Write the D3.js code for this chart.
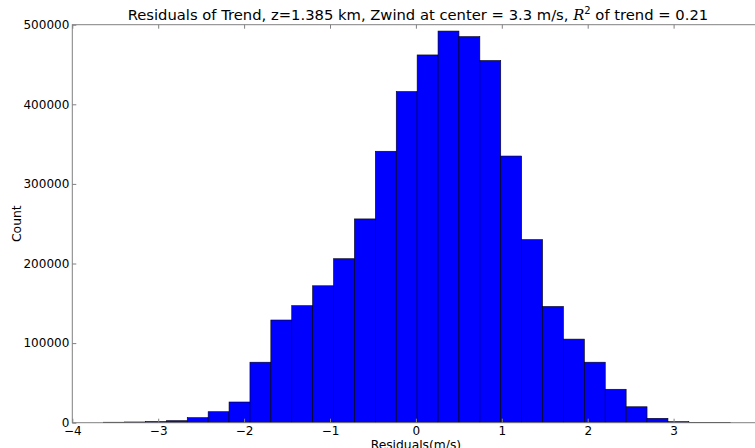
<!DOCTYPE html>
<html>
<head>
<meta charset="utf-8">
<script src="https://cdn.jsdelivr.net/npm/d3@7"></script>
<style>
  html, body { margin: 0; padding: 0; background: #fff; }
  svg { display: block; font-family: "DejaVu Sans", sans-serif; }
</style>
</head>
<body>
<svg id="chart" width="755" height="448"></svg>
<script>
// Histogram of trend residuals: 30 equal-width bins
const binStart = -3.635;
const binWidth = 0.2433;
const counts = [
  600, 900, 1500, 2500, 6300, 13800, 26000, 76000, 129000, 147000,
  172000, 206000, 256000, 341000, 416000, 462000, 492000, 485000, 455000, 335000,
  230000, 146000, 105000, 76000, 42000, 20000, 5500, 1300, 500, 300
];
const xTicks = [-4, -3, -2, -1, 0, 1, 2, 3];
const yTicks = [0, 100000, 200000, 300000, 400000, 500000];

const bins = counts.map((c, i) => ({
  x0: binStart + i * binWidth,
  x1: binStart + (i + 1) * binWidth,
  count: c
}));

const svg = d3.select("#chart");
const plotLeft = 72.3, plotRight = 759.5, plotTop = 24.7, plotBottom = 422.7;

const x = d3.scaleLinear().domain([-4, 4]).range([plotLeft, plotRight]);
const y = d3.scaleLinear().domain([0, 500000]).range([plotBottom, plotTop]);

// bars
svg.append("g")
  .selectAll("rect")
  .data(bins)
  .join("rect")
  .attr("x", d => x(d.x0))
  .attr("y", d => y(d.count))
  .attr("width", d => x(d.x1) - x(d.x0))
  .attr("height", d => y(0) - y(d.count))
  .attr("fill", "#0000ff")
  .attr("stroke", "#000")
  .attr("stroke-width", 0.6);

const tickColor = "#808080";
const tickFont = 12;

// bottom axis (ticks pointing inward)
const xAxis = svg.append("g")
  .attr("transform", `translate(0,${plotBottom})`)
  .call(d3.axisBottom(x).tickValues(xTicks).tickSizeInner(-4).tickSizeOuter(0)
    .tickFormat(d => d < 0 ? "\u2212" + Math.abs(d) : String(d)));
xAxis.select(".domain").remove();
xAxis.selectAll("line").attr("stroke", tickColor);
xAxis.selectAll("text").attr("y", 12).attr("dy", null)
  .attr("font-size", tickFont).attr("fill", "#000").attr("font-family", "DejaVu Sans");

// top ticks
const xTop = svg.append("g")
  .attr("transform", `translate(0,${plotTop})`)
  .call(d3.axisTop(x).tickValues(xTicks).tickSizeInner(-4).tickSizeOuter(0).tickFormat(""));
xTop.select(".domain").remove();
xTop.selectAll("line").attr("stroke", tickColor);

// left axis
const yAxis = svg.append("g")
  .attr("transform", `translate(${plotLeft},0)`)
  .call(d3.axisLeft(y).tickValues(yTicks).tickSizeInner(-4).tickSizeOuter(0)
    .tickFormat(d3.format("d")));
yAxis.select(".domain").remove();
yAxis.selectAll("line").attr("stroke", tickColor);
yAxis.selectAll("text").attr("x", -3)
  .attr("font-size", tickFont).attr("fill", "#000").attr("font-family", "DejaVu Sans");

// frame
svg.append("rect")
  .attr("x", plotLeft).attr("y", plotTop)
  .attr("width", plotRight - plotLeft).attr("height", plotBottom - plotTop)
  .attr("fill", "none").attr("stroke", tickColor).attr("stroke-width", 1);

// title
const title = svg.append("text")
  .attr("x", (plotLeft + plotRight) / 2 + 2)
  .attr("y", 20)
  .attr("text-anchor", "middle")
  .attr("font-size", 14.75)
  .attr("fill", "#000");
title.append("tspan").text("Residuals of Trend, z=1.385 km, Zwind at center = 3.3 m/s, ");
title.append("tspan").attr("font-family", "DejaVu Serif").attr("font-style", "italic").text("R");
title.append("tspan").attr("font-size", 10).attr("dy", -6).text("2");
title.append("tspan").attr("dy", 6).text(" of trend = 0.21");

// axis labels
svg.append("text")
  .attr("x", (plotLeft + plotRight) / 2)
  .attr("y", 449)
  .attr("text-anchor", "middle")
  .attr("font-size", 12.3)
  .text("Residuals(m/s)");

svg.append("text")
  .attr("transform", `translate(21,${(plotTop + plotBottom) / 2}) rotate(-90)`)
  .attr("text-anchor", "middle")
  .attr("font-size", 12.3)
  .text("Count");
</script>
</body>
</html>
